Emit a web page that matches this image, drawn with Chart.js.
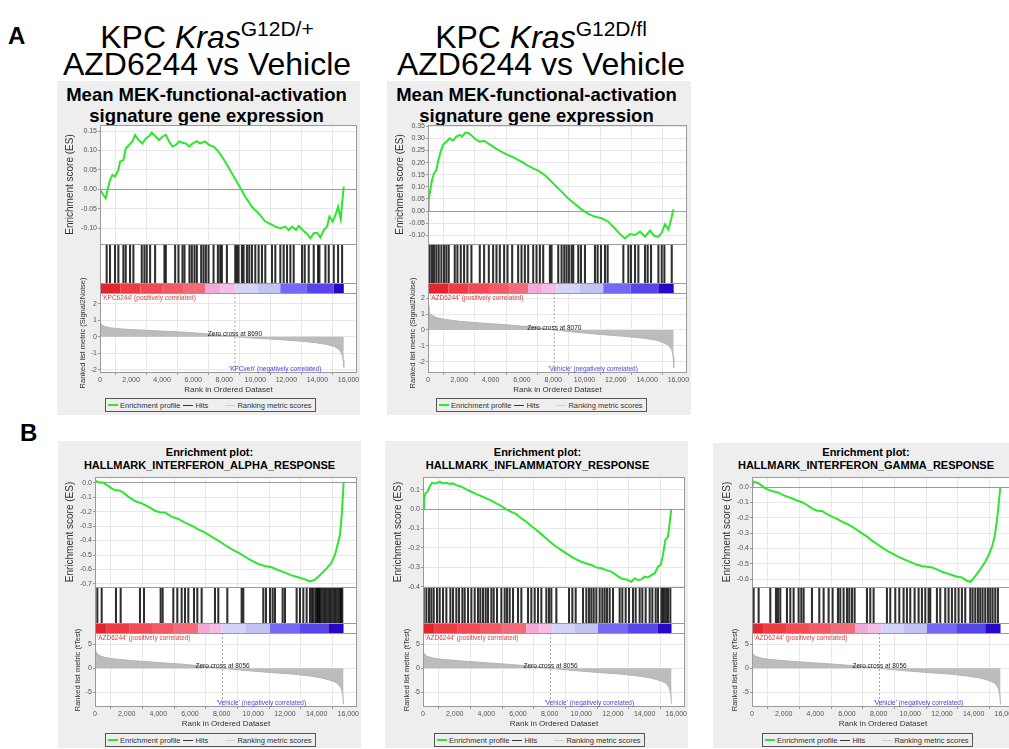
<!DOCTYPE html>
<html lang="en">
<head>
<meta charset="UTF-8">
<title>GSEA enrichment plots</title>
<script src="https://cdn.jsdelivr.net/npm/chart.js"></script>
<style>
    body {
        margin: 0;
        width: 1009px;
        height: 749px;
        overflow: hidden;
        position: relative;
        background: #fff;
        font-family: "Liberation Sans", Arial, sans-serif;
    }
    .box { position: absolute; background: #eeeeee; }
    .head { position: absolute; font-size: 32px; line-height: 32px; text-align: center; white-space: nowrap; color: #000; }
    .head .sup { font-size: 21px; position: relative; top: -12px; }
    .tag { position: absolute; font-size: 24px; font-weight: bold; line-height: 24px; }
    .ttl { position: absolute; font-weight: bold; text-align: center; white-space: nowrap; color: #000; }
    canvas { position: absolute; }
    .lg {
        position: absolute; height: 12px; border: 1px solid #555; background: #eeeeee;
        font-size: 7.5px; color: #333; display: flex; align-items: center; white-space: nowrap; padding-right: 3px;
    }
    .lg i { display: inline-block; width: 10px; height: 0; margin-right: 2px; }
</style>
</head>
<body>

<div class="tag" style="left:8px; top:24px">A</div>
<div class="tag" style="left:20px; top:421px">B</div>

<div class="head" style="left:57px; top:21px; width:300px">KPC <i>Kras</i><span class="sup">G12D/+</span></div>
<div class="head" style="left:57px; top:48px; width:300px">AZD6244 vs Vehicle</div>
<div class="head" style="left:391px; top:21px; width:300px">KPC <i>Kras</i><span class="sup">G12D/fl</span></div>
<div class="head" style="left:391px; top:48px; width:300px">AZD6244 vs Vehicle</div>

<!-- grey chart boxes -->
<div class="box" style="left:57px; top:81px; width:303px; height:334px"></div>
<div class="box" style="left:387px; top:81px; width:304px; height:334px"></div>
<div class="box" style="left:58px; top:441px; width:303px; height:307px"></div>
<div class="box" style="left:385px; top:441px; width:303px; height:307px"></div>
<div class="box" style="left:713px; top:443px; width:300px; height:305px"></div>

<div class="ttl" style="left:55px; top:84px; width:303px; font-size:18.5px; line-height:21px">Mean MEK-functional-activation<br>signature gene expression</div>
<div class="ttl" style="left:385px; top:84px; width:303px; font-size:18.5px; line-height:21px">Mean MEK-functional-activation<br>signature gene expression</div>
<div class="ttl" style="left:58px; top:446px; width:303px; font-size:11px; line-height:13px">Enrichment plot:<br>HALLMARK_INTERFERON_ALPHA_RESPONSE</div>
<div class="ttl" style="left:386px; top:446px; width:303px; font-size:11px; line-height:13px">Enrichment plot:<br>HALLMARK_INFLAMMATORY_RESPONSE</div>
<div class="ttl" style="left:714px; top:446px; width:304px; font-size:11px; line-height:13px">Enrichment plot:<br>HALLMARK_INTERFERON_GAMMA_RESPONSE</div>

<canvas id="cA1"></canvas>
<canvas id="cA2"></canvas>
<canvas id="cB1"></canvas>
<canvas id="cB2"></canvas>
<canvas id="cB3"></canvas>

<div class="lg" style="left:105px; top:398px"><i style="border-top:2px solid #2ee62e; margin-left:2px"></i><span>Enrichment profile</span><i style="border-top:1px solid #333; margin-left:3px"></i><span>Hits</span><i style="border-top:1px solid #cfcfcf; margin-left:17px"></i><span>Ranking metric scores</span></div>
<div class="lg" style="left:436px; top:398px"><i style="border-top:2px solid #2ee62e; margin-left:2px"></i><span>Enrichment profile</span><i style="border-top:1px solid #333; margin-left:3px"></i><span>Hits</span><i style="border-top:1px solid #cfcfcf; margin-left:17px"></i><span>Ranking metric scores</span></div>
<div class="lg" style="left:105px; top:733px"><i style="border-top:2px solid #2ee62e; margin-left:2px"></i><span>Enrichment profile</span><i style="border-top:1px solid #333; margin-left:3px"></i><span>Hits</span><i style="border-top:1px solid #cfcfcf; margin-left:17px"></i><span>Ranking metric scores</span></div>
<div class="lg" style="left:434px; top:733px"><i style="border-top:2px solid #2ee62e; margin-left:2px"></i><span>Enrichment profile</span><i style="border-top:1px solid #333; margin-left:3px"></i><span>Hits</span><i style="border-top:1px solid #cfcfcf; margin-left:17px"></i><span>Ranking metric scores</span></div>
<div class="lg" style="left:762px; top:733px"><i style="border-top:2px solid #2ee62e; margin-left:2px"></i><span>Enrichment profile</span><i style="border-top:1px solid #333; margin-left:3px"></i><span>Hits</span><i style="border-top:1px solid #cfcfcf; margin-left:17px"></i><span>Ranking metric scores</span></div>

<script>
// ---------- values (rank, score) ----------

// A left: KPC Kras G12D/+  (MEK signature)
const esA1 = [[0,0],[215,-0.015],[366,-0.023],[495,0.0],[645,0.024],[796,0.037],[968,0.033],[1183,0.05],[1290,0.071],
    [1505,0.075],[1656,0.105],[1871,0.114],[2086,0.123],[2258,0.14],[2473,0.127],[2731,0.118],[2946,0.131],[3161,0.137],
    [3333,0.146],[3548,0.137],[3806,0.127],[4022,0.136],[4237,0.14],[4452,0.123],[4667,0.11],[4882,0.114],[5097,0.123],
    [5312,0.12],[5527,0.118],[5742,0.11],[5957,0.118],[6237,0.124],[6452,0.118],[6774,0.123],[7032,0.114],[7312,0.11],
    [7634,0.097],[8064,0.071],[8495,0.041],[8925,0.011],[9355,-0.019],[9785,-0.045],[10215,-0.062],[10645,-0.083],
    [10968,-0.089],[11290,-0.096],[11613,-0.1],[11935,-0.096],[12151,-0.105],[12366,-0.096],[12624,-0.105],[12796,-0.094],
    [13054,-0.105],[13333,-0.115],[13548,-0.126],[13763,-0.113],[13978,-0.112],[14194,-0.124],[14409,-0.105],[14624,-0.096],
    [14774,-0.07],[14989,-0.083],[15161,-0.066],[15333,-0.045],[15505,-0.077],[15591,-0.036],[15699,0.007]];
const hitsA1 = [430,645,968,1183,1505,1656,1935,2151,2688,2860,3011,3226,3548,4151,4237,4839,5054,5312,5441,5763,5914,
    6086,6237,6516,6667,6817,6989,7312,7591,7742,7849,8172,8710,8817,8925,9140,9247,9462,9613,9785,10000,10215,10430,
    10645,11075,11290,11613,11828,12043,12258,12473,13011,13183,13441,13763,14043,14129,14516,14731,15054,15333,15591];
const metricA1 = [[0,0.9],[100,0.72],[300,0.62],[700,0.53],[1500,0.46],[2500,0.41],[4000,0.34],[5500,0.27],[7000,0.17],
    [8690,0],[10000,-0.09],[11500,-0.17],[12800,-0.26],[13800,-0.35],[14600,-0.47],[15100,-0.6],[15400,-0.78],
    [15580,-1.05],[15660,-1.4],[15700,-1.85]];
const bandsA1 = [0,1300,2600,4000,5400,6780,7750,8710,10150,11610,13300,15050,15700];

// A right: KPC Kras G12D/fl  (MEK signature)
const esA2 = [[0,0],[43,0.045],[150,0.087],[256,0.128],[384,0.156],[533,0.169],[640,0.204],[811,0.245],[960,0.273],
    [1173,0.286],[1387,0.3],[1600,0.29],[1813,0.307],[2027,0.314],[2176,0.307],[2389,0.324],[2603,0.321],[2816,0.31],
    [3029,0.296],[3307,0.286],[3584,0.29],[3840,0.279],[4160,0.266],[4480,0.252],[4800,0.241],[5120,0.231],[5440,0.222],
    [5760,0.211],[6080,0.2],[6400,0.186],[6720,0.176],[7040,0.167],[7360,0.153],[7680,0.135],[8107,0.107],[8533,0.08],
    [8960,0.052],[9387,0.029],[9813,0.007],[10240,-0.012],[10667,-0.023],[11093,-0.03],[11520,-0.044],[11947,-0.072],
    [12267,-0.095],[12587,-0.113],[12907,-0.095],[13227,-0.099],[13547,-0.085],[13867,-0.106],[14187,-0.081],
    [14464,-0.103],[14720,-0.106],[14933,-0.09],[15147,-0.054],[15360,-0.076],[15531,-0.037],[15637,-0.003],[15701,0.007]];
const hitsA2 = [109,258,386,535,685,855,1026,1175,1325,1709,1879,2093,2306,2519,2775,3309,3586,3885,4162,4375,4589,
    4866,5079,5378,5762,5975,6189,6402,6722,6935,7149,7362,7789,7895,8322,8535,8706,8855,9005,9175,9282,9602,9773,
    10029,10669,10839,11053,11309,11479,12482,12802,12973,13229,13442,13869,14039,14253,14722,14935,15106,15575];
const metricA2 = [[0,1.5],[60,1.15],[200,0.95],[500,0.8],[1000,0.68],[2000,0.55],[3500,0.43],[5000,0.33],[6500,0.2],
    [8070,0],[9500,-0.15],[11000,-0.28],[12500,-0.4],[13800,-0.52],[14600,-0.65],[15100,-0.82],[15400,-1.0],
    [15580,-1.25],[15670,-1.7],[15700,-2.4]];
const bandsA2 = [0,1300,2600,3900,5200,6400,7300,8215,9700,11200,12950,14720,15700];

// B left: HALLMARK_INTERFERON_ALPHA_RESPONSE
const esB1 = [[0,0.01],[105,0.009],[316,0],[463,0.002],[737,-0.016],[1053,-0.039],[1263,-0.051],[1579,-0.055],
    [1789,-0.069],[2105,-0.097],[2526,-0.127],[2947,-0.143],[3368,-0.166],[3789,-0.194],[4105,-0.205],[4421,-0.207],
    [4842,-0.235],[5263,-0.251],[5684,-0.276],[6105,-0.297],[6526,-0.323],[6947,-0.346],[7368,-0.373],[7789,-0.401],
    [8210,-0.431],[8631,-0.459],[9053,-0.484],[9474,-0.512],[9895,-0.539],[10316,-0.562],[10737,-0.576],[11158,-0.585],
    [11579,-0.604],[12000,-0.622],[12421,-0.641],[12842,-0.654],[13263,-0.668],[13579,-0.682],[13853,-0.673],
    [14105,-0.65],[14316,-0.627],[14632,-0.592],[14905,-0.558],[15158,-0.5],[15368,-0.408],[15474,-0.362],
    [15579,-0.235],[15642,-0.12],[15705,0]];
const hitsB1 = [147,421,1326,1621,2842,3095,4147,4274,4947,5200,5474,5684,5895,6253,6463,6737,7579,7789,8358,9263,
    9368,10632,10800,11053,11221,11368,11853,12000,12737,12947,13158,13368,13579,13700,13789,13916,14000,14050,14105,
    14160,14211,14316,14421,14526,14632,14737,14842,14947,15053,15158,15263,15368,15474,15550,15620];
const metricB1 = [[0,4.2],[80,3.3],[250,2.7],[600,2.25],[1200,1.95],[2500,1.55],[4000,1.2],[5500,0.85],[7000,0.4],
    [8056,0],[9500,-0.45],[11000,-0.85],[12500,-1.2],[13600,-1.6],[14400,-2.05],[15000,-2.6],[15350,-3.2],
    [15550,-4.1],[15650,-5.5],[15700,-7.4]];
const bandsB1 = [0,700,2200,3600,5000,6530,7300,8000,9500,11050,12900,14740,15700];

// B middle: HALLMARK_INFLAMMATORY_RESPONSE
const esB2 = [[0,0],[63,0.046],[147,0.081],[274,0.089],[421,0.115],[568,0.135],[737,0.132],[905,0.135],[1053,0.141],
    [1263,0.132],[1474,0.135],[1684,0.129],[1895,0.132],[2105,0.123],[2421,0.115],[2737,0.101],[3053,0.089],[3368,0.077],
    [3684,0.067],[4000,0.055],[4316,0.043],[4632,0.029],[4947,0.015],[5263,-0.002],[5579,-0.014],[5895,-0.026],
    [6210,-0.048],[6526,-0.065],[6842,-0.087],[7158,-0.108],[7474,-0.129],[7789,-0.151],[8105,-0.173],[8421,-0.194],
    [8737,-0.211],[9053,-0.228],[9368,-0.245],[9684,-0.259],[10000,-0.271],[10316,-0.28],[10632,-0.288],[10947,-0.3],
    [11263,-0.305],[11579,-0.314],[11895,-0.322],[12210,-0.34],[12526,-0.357],[12842,-0.362],[13158,-0.374],
    [13368,-0.357],[13579,-0.365],[13789,-0.362],[14000,-0.348],[14210,-0.352],[14421,-0.34],[14632,-0.331],
    [14842,-0.297],[15010,-0.288],[15158,-0.237],[15305,-0.16],[15474,-0.142],[15579,-0.074],[15684,0]];
const hitsB2 = [44,213,381,528,676,886,1055,1265,1476,1728,1897,2107,2276,2486,2634,2844,3055,3265,3476,3623,3792,
    3960,4107,4318,4465,4676,4950,5160,5307,5476,5686,6002,6213,6634,6844,7055,7265,7476,7792,7960,8107,8423,9223,
    9434,9644,10107,10318,10486,10634,10781,10949,11160,11328,11476,11623,11792,12002,12423,12592,12802,13013,13265,
    13434,13686,13855,14065,14318,14486,14697,14844,15055,15160,15265,15370,15476,15623];
const metricB2 = [[0,3.7],[80,3.0],[250,2.5],[600,2.15],[1200,1.85],[2500,1.5],[4000,1.15],[5500,0.8],[7000,0.38],
    [8056,0],[9500,-0.45],[11000,-0.85],[12500,-1.2],[13600,-1.6],[14400,-2.0],[15000,-2.55],[15350,-3.1],
    [15550,-4.0],[15650,-5.3],[15700,-7.3]];
const bandsB2 = [0,700,2200,3600,5000,6530,7350,8170,9600,11055,12950,14840,15700];

// B right: HALLMARK_INTERFERON_GAMMA_RESPONSE
const esB3 = [[0,0],[42,0.015],[126,0.037],[253,0.031],[421,0.026],[632,0.009],[842,-0.007],[1053,-0.017],
    [1368,-0.028],[1684,-0.035],[1937,-0.05],[2210,-0.061],[2526,-0.072],[2842,-0.087],[3158,-0.098],[3474,-0.116],
    [3789,-0.138],[4105,-0.153],[4421,-0.155],[4737,-0.175],[5053,-0.192],[5368,-0.207],[5684,-0.225],[6000,-0.24],
    [6316,-0.258],[6632,-0.279],[6947,-0.301],[7263,-0.323],[7579,-0.349],[7895,-0.371],[8210,-0.393],[8526,-0.415],
    [8842,-0.432],[9158,-0.45],[9474,-0.465],[9789,-0.48],[10105,-0.493],[10421,-0.507],[10737,-0.515],[11053,-0.52],
    [11368,-0.524],[11684,-0.537],[12000,-0.552],[12316,-0.563],[12632,-0.574],[12947,-0.585],[13263,-0.589],
    [13579,-0.611],[13789,-0.618],[13937,-0.603],[14105,-0.581],[14316,-0.552],[14526,-0.52],[14737,-0.487],
    [14947,-0.443],[15158,-0.389],[15326,-0.323],[15474,-0.214],[15579,-0.116],[15684,0]];
const hitsB3 = [103,419,1156,1514,1640,1787,2208,2419,2629,2945,3114,3261,3787,4250,4524,4840,5092,5429,5577,5787,
    5998,6145,6313,6482,7261,7471,7682,8524,8734,9050,9303,9576,9787,9997,10271,10524,10734,10945,11155,11260,11681,
    11892,12208,12418,12629,12839,13050,13260,13471,13787,13934,14103,14271,14418,14566,14734,14903,15050,15198,15366,15534];
const metricB3 = [[0,3.5],[80,2.9],[250,2.45],[600,2.1],[1200,1.8],[2500,1.45],[4000,1.1],[5500,0.78],[7000,0.36],
    [8056,0],[9500,-0.45],[11000,-0.85],[12500,-1.2],[13600,-1.6],[14400,-2.0],[15000,-2.55],[15350,-3.1],
    [15550,-4.1],[15650,-5.4],[15700,-7.5]];
const bandsB3 = [0,700,2200,3600,5000,6524,7350,8166,9600,11051,12900,14734,15700];

// colour bar shades, red (positive) -> blue (negative)
const bandColors = ['#e3262e','#ef3b44','#f24a55','#f25a66','#f26b78','#f4a9d8','#f6bde4','#d4d4f8','#c3c3f3',
    '#7469f2','#5745e8','#2608c6'];

// x axis tick labels (rank in ordered dataset)
const rankTicks = [0, 2000, 4000, 6000, 8000, 10000, 12000, 14000, 16000];
const xMaxRank = 16550;

// draws white plot area, frame lines and the small text in the ranked list panel
const gseaFrame = {
    id: 'gseaFrame',
    beforeDraw(chart) {
        const {ctx, chartArea: a} = chart;
        ctx.save();
        ctx.fillStyle = '#fff';
        ctx.fillRect(a.left, a.top, a.width, a.height);
        ctx.restore();
    },
    beforeDatasetsDraw(chart) {
        const {ctx, chartArea: a, scales: s} = chart;
        ctx.save();
        ctx.fillStyle = '#fff';
        ctx.fillRect(a.left, s.hits.top, a.width, s.hits.height);
        ctx.restore();
    },
    afterDatasetsDraw(chart, args, opts) {
        const {ctx, chartArea: a, scales: s} = chart;
        ctx.save();
        ctx.strokeStyle = '#9a9a9a';
        ctx.lineWidth = 1;
        ctx.strokeRect(a.left + 0.5, a.top + 0.5, a.width - 1, a.height - 1);
        ['hits', 'cb', 'rank'].forEach(id => {
            const y = Math.round(s[id].top) + 0.5;
            ctx.beginPath();
            ctx.moveTo(a.left, y);
            ctx.lineTo(a.right, y);
            ctx.stroke();
        });
        const zx = s.x.getPixelForValue(opts.zero);
        ctx.font = '6.5px "Liberation Sans", Arial, sans-serif';
        ctx.textAlign = 'left';
        ctx.textBaseline = 'top';
        ctx.fillStyle = '#e23b3b';
        ctx.fillText(opts.pos, a.left + 2, s.rank.top + 1.5);
        ctx.textAlign = 'center';
        ctx.textBaseline = 'bottom';
        ctx.fillStyle = '#222';
        ctx.fillText('Zero cross at ' + opts.zero, zx, s.rank.getPixelForValue(0) + 1);
        ctx.textAlign = 'left';
        ctx.fillStyle = '#4646e0';
        ctx.fillText(opts.neg, zx - 6, s.rank.bottom - 1);
        ctx.restore();
    }
};

function gseaPanel(id, p) {
    const yW = 42;
    const canvas = document.getElementById(id);
    const w = yW + p.plotW + 3;
    const h = 3 + p.esH + p.hitsH + p.cbH + p.rankH + 22;
    canvas.width = w;
    canvas.height = h;
    canvas.style.width = w + 'px';
    canvas.style.height = h + 'px';
    canvas.style.left = (p.plotLeft - yW) + 'px';
    canvas.style.top = (p.plotTop - 3) + 'px';

    const fixW = s => { s.width = yW; s.paddingTop = 0; s.paddingBottom = 0; };
    const tickFont = {size: 7, family: '"Liberation Sans", Arial, sans-serif'};
    const hidden = {ticks: {display: false}, grid: {display: false}, border: {display: false}};

    new Chart(canvas, {
        type: 'line',
        data: {
            datasets: [
                {
                    data: p.es.map(([x, y]) => ({x, y})), yAxisID: 'es',
                    borderColor: '#2ee62e', borderWidth: 2, pointRadius: 0, tension: 0
                },
                {
                    type: 'bar', data: p.hits.map(x => ({x, y: 1})), yAxisID: 'hits',
                    backgroundColor: 'rgba(10,10,10,0.85)', barThickness: 1.4, grouped: false
                },
                {
                    data: [{x: p.zero, y: p.rankMax}, {x: p.zero, y: p.rankMin}], yAxisID: 'rank',
                    borderColor: '#a8a8a8', borderWidth: 1, borderDash: [2, 2], pointRadius: 0
                },
                {
                    data: p.metric.map(([x, y]) => ({x, y})), yAxisID: 'rank',
                    borderColor: '#b4b4b4', backgroundColor: '#bcbcbc', borderWidth: 1, fill: 'origin', pointRadius: 0
                },
                {
                    data: p.bands.map(x => ({x, y: 0.5})), yAxisID: 'cb',
                    borderColor: bandColors[0], borderWidth: p.cbH, borderCapStyle: 'butt', pointRadius: 0,
                    segment: {borderColor: c => bandColors[c.p0DataIndex]}
                }
            ]
        },
        options: {
            responsive: false,
            animation: false,
            devicePixelRatio: 1,
            layout: {padding: {top: 3, right: 3, left: 0, bottom: 0}},
            plugins: {
                legend: {display: false},
                tooltip: {enabled: false},
                gseaFrame: {zero: p.zero, pos: p.pos, neg: p.neg}
            },
            scales: {
                x: {
                    type: 'linear', min: 0, max: xMaxRank, offset: false,
                    afterBuildTicks: s => { s.ticks = rankTicks.map(v => ({value: v})); },
                    ticks: {autoSkip: false, maxRotation: 0, font: tickFont,
                        color: '#555', padding: 1, callback: v => v.toLocaleString('en-US')},
                    grid: {color: '#e8e8e8', tickLength: 2, tickColor: '#999'},
                    border: {display: false},
                    title: {display: true, text: 'Rank in Ordered Dataset', color: '#333',
                        font: {size: 8, family: '"Liberation Sans", Arial, sans-serif'}, padding: {top: 1, bottom: 0}},
                    afterFit: s => { s.height = 22; s.paddingLeft = 0; s.paddingRight = 0; }
                },
                es: {
                    type: 'linear', position: 'left', stack: 'gsea', stackWeight: p.esH, weight: 4,
                    min: p.esMin, max: p.esMax,
                    ticks: {stepSize: p.esStep, includeBounds: false, autoSkip: false, font: tickFont, color: '#555',
                        padding: 1, callback: v => v.toFixed(p.esDigits)},
                    grid: {color: c => Math.abs(c.tick.value) < 1e-9 ? '#9a9a9a' : '#e8e8e8', tickLength: 2, tickColor: '#999'},
                    border: {display: false},
                    title: {display: true, text: 'Enrichment score (ES)', color: '#333',
                        font: {size: 10, family: '"Liberation Sans", Arial, sans-serif'},
                        padding: {top: p.esTitlePad, bottom: 0}},
                    afterFit: fixW
                },
                hits: Object.assign({type: 'linear', position: 'left', stack: 'gsea', stackWeight: p.hitsH, weight: 3,
                    min: 0, max: 1, afterFit: fixW}, hidden),
                cb: Object.assign({type: 'linear', position: 'left', stack: 'gsea', stackWeight: p.cbH, weight: 2,
                    min: 0, max: 1, afterFit: fixW}, hidden),
                rank: {
                    type: 'linear', position: 'left', stack: 'gsea', stackWeight: p.rankH, weight: 1,
                    min: p.rankMin, max: p.rankMax,
                    ticks: {stepSize: p.rankStep, includeBounds: false, autoSkip: false, font: tickFont,
                        color: '#555', padding: 1},
                    grid: {color: '#e8e8e8', tickLength: 2, tickColor: '#999'},
                    border: {display: false},
                    title: {display: true, text: p.rankTitle, color: '#333',
                        font: {size: 7.5, family: '"Liberation Sans", Arial, sans-serif'},
                        padding: {top: p.rankTitlePad, bottom: 0}},
                    afterFit: fixW
                }
            }
        },
        plugins: [gseaFrame]
    });
}

const panelA = {plotTop: 125, esH: 119, hitsH: 39, cbH: 10, rankH: 80, esStep: 0.05, esDigits: 2, rankStep: 1,
    rankTitle: 'Ranked list metric (Signal2Noise)'};
const panelB = {plotTop: 477, plotW: 262, esH: 110, hitsH: 36, cbH: 10, rankH: 74, esStep: 0.1, esDigits: 1,
    rankStep: 5, rankMin: -8.0, rankMax: 7.3, zero: 8056, rankTitle: 'Ranked list metric (tTest)',
    pos: "'AZD6244' (positively correlated)", neg: "'Vehicle' (negatively correlated)"};

gseaPanel('cA1', Object.assign({}, panelA, {plotLeft: 100, plotW: 257, es: esA1, hits: hitsA1, metric: metricA1,
    bands: bandsA1, esMin: -0.1408, esMax: 0.1655, rankMin: -2.2, rankMax: 2.65, zero: 8690,
    esTitlePad: 6, rankTitlePad: 20.5,
    pos: "'KPC6244' (positively correlated)", neg: "'KPCveh' (negatively correlated)"}));
gseaPanel('cA2', Object.assign({}, panelA, {plotLeft: 428, plotW: 259, es: esA2, hits: hitsA2, metric: metricA2,
    bands: bandsA2, esMin: -0.136, esMax: 0.355, rankMin: -2.72, rankMax: 2.34, zero: 8070,
    esTitlePad: 8, rankTitlePad: 22.5,
    pos: "'AZD6244' (positively correlated)", neg: "'Vehicle' (negatively correlated)"}));
gseaPanel('cB1', Object.assign({}, panelB, {plotLeft: 95, es: esB1, hits: hitsB1, metric: metricB1, bands: bandsB1,
    esMin: -0.721, esMax: 0.039, esTitlePad: 11, rankTitlePad: 20.5}));
gseaPanel('cB2', Object.assign({}, panelB, {plotLeft: 423, es: esB2, hits: hitsB2, metric: metricB2, bands: bandsB2,
    esMin: -0.401, esMax: 0.165, esTitlePad: 11, rankTitlePad: 21}));
gseaPanel('cB3', Object.assign({}, panelB, {plotLeft: 752, es: esB3, hits: hitsB3, metric: metricB3, bands: bandsB3,
    esMin: -0.652, esMax: 0.067, esTitlePad: 11, rankTitlePad: 20}));
</script>
</body>
</html>
